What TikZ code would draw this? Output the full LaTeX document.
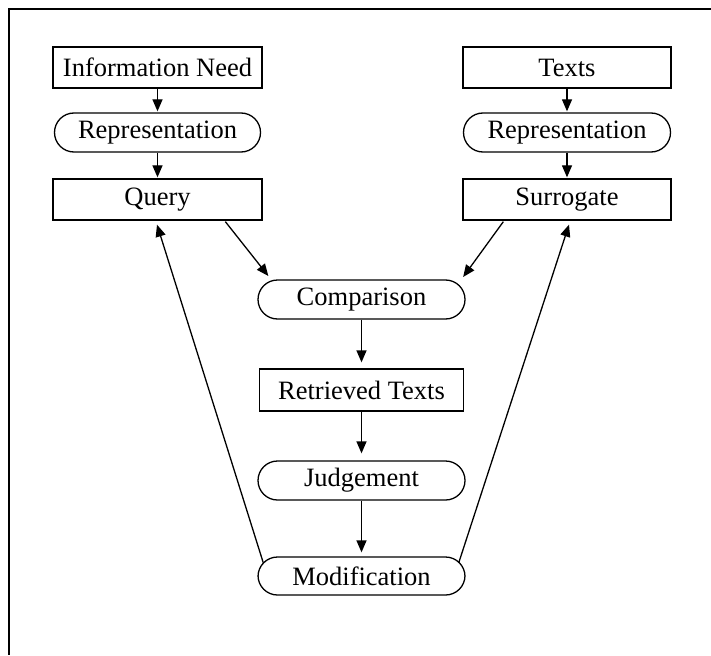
\documentclass[tikz,border=0pt]{standalone}
\usepackage{fontspec}
\setmainfont{Liberation Serif}
\usetikzlibrary{arrows.meta,calc}
\begin{document}
\begin{tikzpicture}[x=1pt,y=-1pt,
  font=\fontsize{26.5}{30}\selectfont,
  sqbox/.style={draw,line width=1.3pt,rectangle,inner sep=0pt,minimum width=209pt,minimum height=41pt},
  rbox/.style={draw,line width=1.3pt,rectangle,rounded corners=19.5pt,inner sep=0pt,minimum width=206pt,minimum height=39pt},
  arr/.style={line width=1.3pt,-{Triangle[length=12pt,width=10pt]}}]
\useasboundingbox (0,0) rectangle (711,655);
\draw[line width=2.2pt] (711,9) -- (9,9) -- (9,655);
% left column
\node[sqbox] (need) at (157.5,67.5) {Information Need};
\node[rbox] (repl) at (157.5,132.5) {Representation};
\node[sqbox] (query) at (157.5,199.5) {Query};
% right column
\node[sqbox,minimum width=208pt] (texts) at (567,67.5) {Texts};
\node[rbox,minimum width=207pt] (repr) at (567,132.5) {Representation};
\node[sqbox,minimum width=208pt] (surr) at (567,199.5) {Surrogate};
% middle column
\node[rbox,minimum width=207pt] (comp) at (361.5,299.5) {Comparison};
\node[sqbox,minimum width=204pt,minimum height=42pt] (retr) at (361.5,390) {Retrieved Texts};
\node[rbox,minimum width=207pt] (judg) at (361.5,480.5) {Judgement};
\node[rbox,minimum width=207pt,minimum height=38pt] (modi) at (361.5,576) {Modification};
% vertical arrows
\draw[arr,shorten >=1pt] (need) -- (repl);
\draw[arr,shorten >=1pt] (repl) -- (query);
\draw[arr,shorten >=1pt] (texts) -- (repr);
\draw[arr,shorten >=1pt] (repr) -- (surr);
\draw[arr,shorten >=6pt] (comp) -- (retr);
\draw[arr,shorten >=7pt] (retr) -- (judg);
\draw[arr,shorten >=4pt] (judg) -- (modi);
% diagonal arrows
\draw[arr] ($(query.south west)+(173,1)$) -- ($(comp.west)+(11,-23.5)$);
\draw[arr] ($(surr.south west)+(41,1)$) -- ($(comp.east)+(-2.5,-22.5)$);
\draw[arr] ($(modi.west)+(6,-13)$) -- ($(query.south)+(-0.5,4)$);
\draw[arr] ($(modi.east)+(-7,-13)$) -- ($(surr.south)+(2,4)$);
\end{tikzpicture}
\end{document}
